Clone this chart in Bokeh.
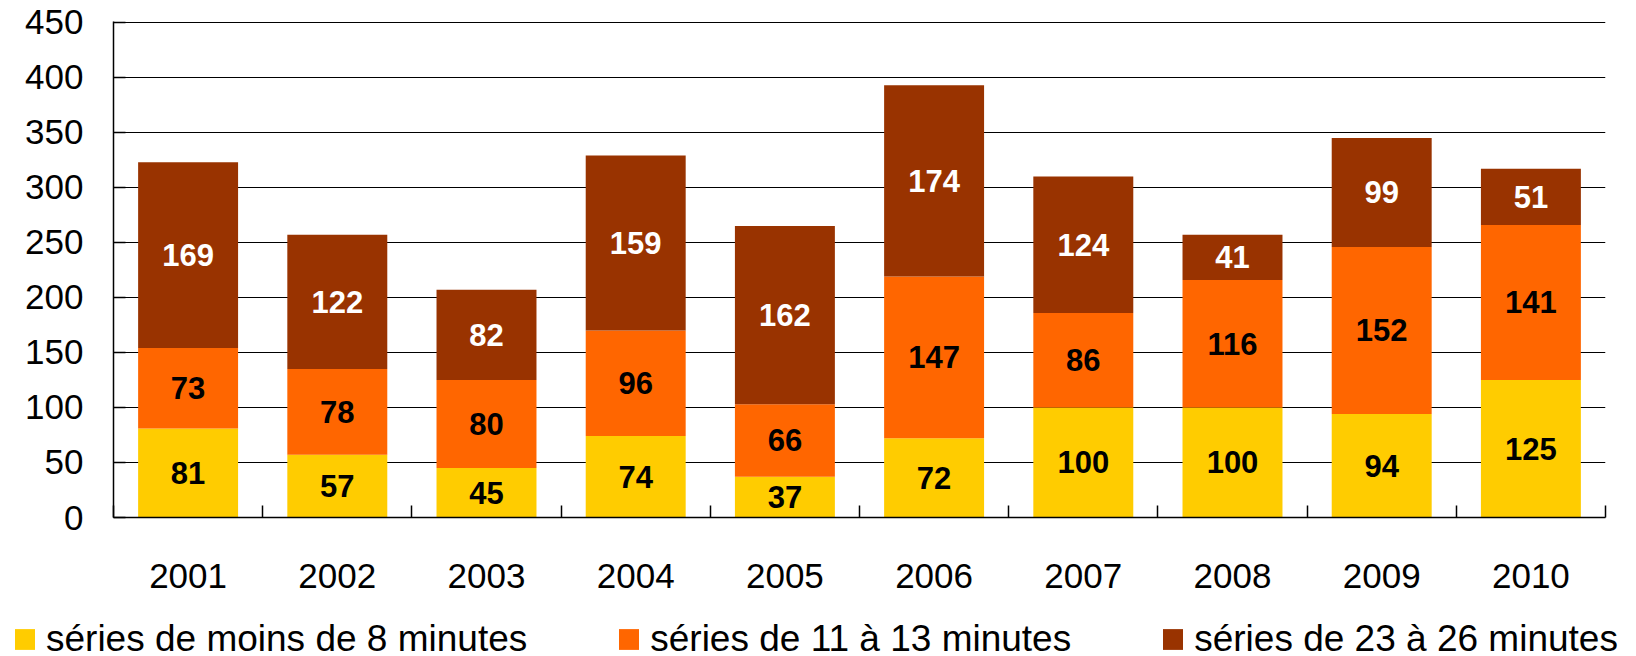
from bokeh.plotting import figure
from bokeh.layouts import column
from bokeh.models import ColumnDataSource, Legend, LegendItem, FixedTicker, Range1d
from bokeh.core.properties import value
from bokeh.embed import file_html
from bokeh.resources import INLINE

years = ["2001", "2002", "2003", "2004", "2005", "2006", "2007", "2008", "2009", "2010"]
moins8 = [81, 57, 45, 74, 37, 72, 100, 100, 94, 125]
de11a13 = [73, 78, 80, 96, 66, 147, 86, 116, 152, 141]
de23a26 = [169, 122, 82, 159, 162, 174, 124, 41, 99, 51]
series_names = ["séries de moins de 8 minutes", "séries de 11 à 13 minutes", "séries de 23 à 26 minutes"]
colors = ["#FFCC00", "#FF6600", "#993300"]
label_colors = ["#000000", "#000000", "#FFFFFF"]
y_ticks = [0, 50, 100, 150, 200, 250, 300, 350, 400, 450]

FONT = "Liberation Sans"
xs = list(range(1, len(years) + 1))

src = ColumnDataSource(dict(x=xs, s0=moins8, s1=de11a13, s2=de23a26))

p = figure(width=1636, height=600, output_backend="svg", toolbar_location=None,
           x_range=Range1d(0.5, len(years) + 0.5), y_range=Range1d(0, 450.9),
           min_border_left=113, min_border_right=31, min_border_top=21, min_border_bottom=83)
p.frame_align = False
p.outline_line_color = None
p.background_fill_color = "white"
p.border_fill_color = "white"

rs = p.vbar_stack(["s0", "s1", "s2"], x="x", width=0.67, color=colors, line_color=None, source=src)

# labels
lx, ly, lt, lc = [], [], [], []
for i, x in enumerate(xs):
    base = 0
    for k, ser in enumerate([moins8, de11a13, de23a26]):
        v = ser[i]
        lx.append(x)
        ly.append(base + v / 2)
        lt.append(str(v))
        lc.append(label_colors[k])
        base += v
lsrc = ColumnDataSource(dict(x=lx, y=ly, t=lt, c=lc))
p.text(x="x", y="y", text="t", text_color="c", source=lsrc,
       text_font=value(FONT), text_font_style="bold", text_font_size="31px",
       text_align="center", text_baseline="middle")

# axes
p.xaxis.ticker = FixedTicker(ticks=xs, minor_ticks=[i + 0.5 for i in range(0, len(years) + 1)])
p.xaxis.major_label_overrides = {x: y for x, y in zip(xs, years)}
p.xaxis.major_tick_line_color = None
p.xaxis.minor_tick_in = 12
p.xaxis.minor_tick_out = 0
p.xaxis.minor_tick_line_color = "black"
p.xaxis.minor_tick_line_width = 1.5
p.xaxis.axis_line_color = "black"
p.xaxis.axis_line_width = 1.5
p.xaxis.major_label_standoff = 40
p.xaxis.major_label_text_font = FONT
p.xaxis.major_label_text_font_size = "35px"
p.xaxis.major_label_text_color = "black"

p.yaxis.ticker = FixedTicker(ticks=y_ticks)
p.yaxis.minor_tick_line_color = None
p.yaxis.major_tick_in = 12
p.yaxis.major_tick_out = 0
p.yaxis.major_tick_line_color = "black"
p.yaxis.major_tick_line_width = 1.5
p.yaxis.axis_line_color = "black"
p.yaxis.axis_line_width = 1.5
p.yaxis.major_label_standoff = 30
p.yaxis.major_label_text_font = FONT
p.yaxis.major_label_text_font_size = "35px"
p.yaxis.major_label_text_color = "black"

p.xgrid.grid_line_color = None
p.ygrid.grid_line_color = "black"
p.ygrid.grid_line_width = 1

# legend strip below the chart (proxy renderers of zero height, only used for the legend swatches)
leg = figure(width=1636, height=56, output_backend="svg", toolbar_location=None,
             x_range=Range1d(0, 1), y_range=Range1d(0, 1),
             x_axis_type=None, y_axis_type=None, min_border=0)
leg.frame_align = False
leg.outline_line_color = None
leg.grid.grid_line_color = None
leg_rs = [leg.vbar(x=[0.5], top=[0], bottom=[0], width=0, color=c, line_color=None) for c in colors]
legend = Legend(items=[LegendItem(label=n, renderers=[r]) for n, r in zip(series_names, leg_rs)],
                orientation="horizontal", location=(12, -4), spacing=89,
                glyph_width=25, glyph_height=26, label_standoff=9, padding=0, margin=0,
                border_line_color=None, background_fill_alpha=0,
                label_text_font=FONT, label_text_font_size="37px", label_text_color="black")
leg.add_layout(legend, "center")

layout = column(p, leg, spacing=0)
open("out.html", "w").write(file_html(layout, INLINE))
